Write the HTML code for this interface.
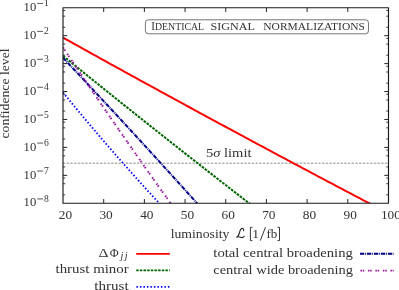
<!DOCTYPE html><html><head><meta charset="utf-8"><style>html,body{margin:0;padding:0;background:#fff}svg{display:block}text{font-family:"Liberation Serif",serif;fill:#333}</style></head><body>
<svg width="399" height="290" viewBox="0 0 399 290">
<rect width="399" height="290" fill="#fff"/>
<defs><filter id="gs" x="0" y="0" width="399" height="290" filterUnits="userSpaceOnUse" color-interpolation-filters="sRGB"><feColorMatrix type="saturate" values="0"/></filter><clipPath id="c"><rect x="63.00" y="7.75" width="325.50" height="195.50"/></clipPath></defs>
<g clip-path="url(#c)" fill="none">
<line x1="63.00" y1="163.20" x2="388.50" y2="163.20" stroke="#808080" stroke-width="0.9" stroke-dasharray="2.4 1.3"/>
<polyline points="63.00,37.64 66.00,39.32 69.00,40.98 72.00,42.65 75.00,44.32 78.00,45.99 81.00,47.65 84.00,49.32 87.00,50.98 90.00,52.65 93.00,54.31 96.00,55.97 99.00,57.63 102.00,59.29 105.00,60.95 108.00,62.61 111.00,64.26 114.00,65.92 117.00,67.57 120.00,69.23 123.00,70.88 126.00,72.53 129.00,74.18 132.00,75.83 135.00,77.48 138.00,79.13 141.00,80.77 144.00,82.42 147.00,84.07 150.00,85.71 153.00,87.35 156.00,88.99 159.00,90.64 162.00,92.28 165.00,93.92 168.00,95.55 171.00,97.19 174.00,98.83 177.00,100.46 180.00,102.10 183.00,103.73 186.00,105.36 189.00,107.00 192.00,108.63 195.00,110.26 198.00,111.89 201.00,113.51 204.00,115.14 207.00,116.77 210.00,118.39 213.00,120.02 216.00,121.64 219.00,123.26 222.00,124.88 225.00,126.50 228.00,128.12 231.00,129.74 234.00,131.36 237.00,132.98 240.00,134.59 243.00,136.21 246.00,137.82 249.00,139.43 252.00,141.04 255.00,142.65 258.00,144.26 261.00,145.87 264.00,147.48 267.00,149.09 270.00,150.69 273.00,152.30 276.00,153.90 279.00,155.51 282.00,157.11 285.00,158.71 288.00,160.31 291.00,161.91 294.00,163.51 297.00,165.11 300.00,166.70 303.00,168.30 306.00,169.89 309.00,171.49 312.00,173.08 315.00,174.67 318.00,176.26 321.00,177.85 324.00,179.44 327.00,181.03 330.00,182.62 333.00,184.20 336.00,185.79 339.00,187.37 342.00,188.96 345.00,190.54 348.00,192.12 351.00,193.70 354.00,195.28 357.00,196.86 360.00,198.43 363.00,200.01 366.00,201.59 369.00,203.16 372.00,204.74" stroke="#ff0000" stroke-width="2.0"/>
<polyline points="63.00,55.85 66.00,58.29 69.00,60.72 72.00,63.15 75.00,65.58 78.00,68.01 81.00,70.43 84.00,72.86 87.00,75.28 90.00,77.70 93.00,80.12 96.00,82.53 99.00,84.95 102.00,87.36 105.00,89.77 108.00,92.18 111.00,94.58 114.00,96.99 117.00,99.39 120.00,101.79 123.00,104.19 126.00,106.58 129.00,108.98 132.00,111.37 135.00,113.76 138.00,116.15 141.00,118.53 144.00,120.92 147.00,123.30 150.00,125.68 153.00,128.06 156.00,130.44 159.00,132.81 162.00,135.18 165.00,137.55 168.00,139.92 171.00,142.29 174.00,144.65 177.00,147.02 180.00,149.38 183.00,151.74 186.00,154.09 189.00,156.45 192.00,158.80 195.00,161.15 198.00,163.50 201.00,165.85 204.00,168.19 207.00,170.54 210.00,172.88 213.00,175.22 216.00,177.55 219.00,179.89 222.00,182.22 225.00,184.55 228.00,186.88 231.00,189.21 234.00,191.54 237.00,193.86 240.00,196.18 243.00,198.50 246.00,200.82 249.00,203.13 252.00,205.45" stroke="#006400" stroke-width="2.0" stroke-dasharray="2.6 1.1"/>
<polyline points="63.00,57.77 66.00,60.95 69.00,64.13 72.00,67.31 75.00,70.49 78.00,73.68 81.00,76.87 84.00,80.07 87.00,83.27 90.00,86.48 93.00,89.68 96.00,92.90 99.00,96.11 102.00,99.33 105.00,102.55 108.00,105.78 111.00,109.01 114.00,112.24 117.00,115.48 120.00,118.72 123.00,121.97 126.00,125.22 129.00,128.47 132.00,131.73 135.00,134.99 138.00,138.25 141.00,141.52 144.00,144.79 147.00,148.07 150.00,151.34 153.00,154.63 156.00,157.91 159.00,161.20 162.00,164.50 165.00,167.80 168.00,171.10 171.00,174.40 174.00,177.71 177.00,181.02 180.00,184.34 183.00,187.66 186.00,190.98 189.00,194.31 192.00,197.64 195.00,200.98 198.00,204.32 201.00,207.66" stroke="#00008b" stroke-width="2.0" stroke-dasharray="4.3 0.9 0.9 0.9"/>
<polyline points="63.00,47.54 66.00,52.03 69.00,56.51 72.00,60.98 75.00,65.45 78.00,69.90 81.00,74.35 84.00,78.79 87.00,83.22 90.00,87.64 93.00,92.05 96.00,96.46 99.00,100.85 102.00,105.24 105.00,109.62 108.00,113.99 111.00,118.35 114.00,122.71 117.00,127.05 120.00,131.39 123.00,135.71 126.00,140.03 129.00,144.34 132.00,148.65 135.00,152.94 138.00,157.22 141.00,161.50 144.00,165.77 147.00,170.03 150.00,174.28 153.00,178.52 156.00,182.75 159.00,186.98 162.00,191.19 165.00,195.40 168.00,199.60 171.00,203.79 174.00,207.97" stroke="#96109a" stroke-width="2.0" stroke-dasharray="1.5 0.8 1.5 3.7"/>
<polyline points="63.00,92.48 66.00,96.14 69.00,99.79 72.00,103.43 75.00,107.05 78.00,110.66 81.00,114.25 84.00,117.84 87.00,121.41 90.00,124.96 93.00,128.50 96.00,132.03 99.00,135.55 102.00,139.05 105.00,142.54 108.00,146.01 111.00,149.47 114.00,152.92 117.00,156.35 120.00,159.77 123.00,163.18 126.00,166.57 129.00,169.95 132.00,173.32 135.00,176.67 138.00,180.01 141.00,183.34 144.00,186.65 147.00,189.95 150.00,193.23 153.00,196.50 156.00,199.76 159.00,203.01 162.00,206.24" stroke="#0000ff" stroke-width="1.8" stroke-dasharray="1.5 2"/>
</g>
<rect x="63.00" y="7.75" width="325.50" height="195.50" fill="none" stroke="#1a1a1a" stroke-width="1.15" stroke-linejoin="round"/>
<path d="M103.69 203.25v-4.2M103.69 7.75v4.2M144.38 203.25v-4.2M144.38 7.75v4.2M185.06 203.25v-4.2M185.06 7.75v4.2M225.75 203.25v-4.2M225.75 7.75v4.2M266.44 203.25v-4.2M266.44 7.75v4.2M307.12 203.25v-4.2M307.12 7.75v4.2M347.81 203.25v-4.2M347.81 7.75v4.2M63.00 175.32h4.2M388.50 175.32h-4.2M63.00 147.39h4.2M388.50 147.39h-4.2M63.00 119.46h4.2M388.50 119.46h-4.2M63.00 91.54h4.2M388.50 91.54h-4.2M63.00 63.61h4.2M388.50 63.61h-4.2M63.00 35.68h4.2M388.50 35.68h-4.2" stroke="#222" stroke-width="1" fill="none"/>
<path d="M63.00 194.84h2.2M388.50 194.84h-2.2M63.00 183.73h2.2M388.50 183.73h-2.2M63.00 178.03h2.2M388.50 178.03h-2.2M63.00 166.91h2.2M388.50 166.91h-2.2M63.00 155.80h2.2M388.50 155.80h-2.2M63.00 150.10h2.2M388.50 150.10h-2.2M63.00 138.99h2.2M388.50 138.99h-2.2M63.00 127.87h2.2M388.50 127.87h-2.2M63.00 122.17h2.2M388.50 122.17h-2.2M63.00 111.06h2.2M388.50 111.06h-2.2M63.00 99.94h2.2M388.50 99.94h-2.2M63.00 94.24h2.2M388.50 94.24h-2.2M63.00 83.13h2.2M388.50 83.13h-2.2M63.00 72.01h2.2M388.50 72.01h-2.2M63.00 66.31h2.2M388.50 66.31h-2.2M63.00 55.20h2.2M388.50 55.20h-2.2M63.00 44.09h2.2M388.50 44.09h-2.2M63.00 38.39h2.2M388.50 38.39h-2.2M63.00 27.27h2.2M388.50 27.27h-2.2M63.00 16.16h2.2M388.50 16.16h-2.2M63.00 10.46h2.2M388.50 10.46h-2.2" stroke="#222" stroke-width="0.9" fill="none"/>
<g id="tx" filter="url(#gs)">
<text x="65.40" y="219.3" font-size="13.3" text-anchor="middle">20</text>
<text x="106.09" y="219.3" font-size="13.3" text-anchor="middle">30</text>
<text x="146.78" y="219.3" font-size="13.3" text-anchor="middle">40</text>
<text x="187.46" y="219.3" font-size="13.3" text-anchor="middle">50</text>
<text x="228.15" y="219.3" font-size="13.3" text-anchor="middle">60</text>
<text x="268.84" y="219.3" font-size="13.3" text-anchor="middle">70</text>
<text x="309.52" y="219.3" font-size="13.3" text-anchor="middle">80</text>
<text x="350.21" y="219.3" font-size="13.3" text-anchor="middle">90</text>
<text x="390.90" y="219.3" font-size="13.3" text-anchor="middle">100</text>
<text x="23.6" y="206.45" font-size="13.3" textLength="12.6" lengthAdjust="spacingAndGlyphs">10</text>
<path d="M37.2 198.95h5.9" stroke="#222" stroke-width="0.75"/>
<text x="43.9" y="201.75" font-size="9.6">8</text>
<text x="23.6" y="178.52" font-size="13.3" textLength="12.6" lengthAdjust="spacingAndGlyphs">10</text>
<path d="M37.2 171.02h5.9" stroke="#222" stroke-width="0.75"/>
<text x="43.9" y="173.82" font-size="9.6">7</text>
<text x="23.6" y="150.59" font-size="13.3" textLength="12.6" lengthAdjust="spacingAndGlyphs">10</text>
<path d="M37.2 143.09h5.9" stroke="#222" stroke-width="0.75"/>
<text x="43.9" y="145.89" font-size="9.6">6</text>
<text x="23.6" y="122.66" font-size="13.3" textLength="12.6" lengthAdjust="spacingAndGlyphs">10</text>
<path d="M37.2 115.16h5.9" stroke="#222" stroke-width="0.75"/>
<text x="43.9" y="117.96" font-size="9.6">5</text>
<text x="23.6" y="94.74" font-size="13.3" textLength="12.6" lengthAdjust="spacingAndGlyphs">10</text>
<path d="M37.2 87.24h5.9" stroke="#222" stroke-width="0.75"/>
<text x="43.9" y="90.04" font-size="9.6">4</text>
<text x="23.6" y="66.81" font-size="13.3" textLength="12.6" lengthAdjust="spacingAndGlyphs">10</text>
<path d="M37.2 59.31h5.9" stroke="#222" stroke-width="0.75"/>
<text x="43.9" y="62.11" font-size="9.6">3</text>
<text x="23.6" y="38.88" font-size="13.3" textLength="12.6" lengthAdjust="spacingAndGlyphs">10</text>
<path d="M37.2 31.38h5.9" stroke="#222" stroke-width="0.75"/>
<text x="43.9" y="34.18" font-size="9.6">2</text>
<text x="23.6" y="10.95" font-size="13.3" textLength="12.6" lengthAdjust="spacingAndGlyphs">10</text>
<path d="M37.2 3.45h5.9" stroke="#222" stroke-width="0.75"/>
<text x="43.9" y="6.25" font-size="9.6">1</text>
<text transform="translate(9.2 93.5) rotate(-90)" font-size="13.5" text-anchor="middle" textLength="90" lengthAdjust="spacingAndGlyphs">confidence level</text>
<text x="170.7" y="237.8" font-size="13.5" textLength="58.7" lengthAdjust="spacingAndGlyphs">luminosity</text>
<path d="M243.7 230.7C243.9 229.2 243.2 228.4 242.2 228.4C240.6 228.4 240 230.5 239.5 232.5C239 234.6 238.3 236.6 236.4 237.4C237.8 236.3 239.2 236.8 240.4 237.3C241.8 237.9 243.3 237.7 244.2 236.3" fill="none" stroke="#2a2a2a" stroke-width="1.1" stroke-linecap="round"/>
<path d="M252.4 227.3H250.4V240.6H252.4M277.5 227.3H279.5V240.6H277.5M260.3 240.6L265.5 227.1" fill="none" stroke="#222" stroke-width="0.9"/>
<text x="255.7" y="237.8" font-size="13.5" text-anchor="middle">1</text>
<text x="266.4" y="237.8" font-size="13.5" textLength="10.9" lengthAdjust="spacingAndGlyphs">fb</text>
<text x="206" y="156.6" font-size="13.5" textLength="45.5" lengthAdjust="spacingAndGlyphs">5<tspan font-style="italic">σ</tspan> limit</text>
<rect x="145.4" y="19.8" width="223.1" height="14" rx="3" ry="3" fill="#fff" stroke="#3a3a3a" stroke-width="0.7"/>
<text x="151.3" y="30.2" font-size="10.4" textLength="52.8" lengthAdjust="spacingAndGlyphs"><tspan font-size="11.6">I</tspan>DENTICAL</text>
<text x="210.6" y="30.2" font-size="10.4" textLength="44.3" lengthAdjust="spacingAndGlyphs">SIGNAL</text>
<text x="263.3" y="30.2" font-size="10.4" textLength="101.6" lengthAdjust="spacingAndGlyphs">NORMALIZATIONS</text>
<text x="98.4" y="256.8" font-size="12.8" textLength="10" lengthAdjust="spacingAndGlyphs">Δ</text>
<text x="109.8" y="256.8" font-size="12.8" textLength="8.9" lengthAdjust="spacingAndGlyphs">Φ</text>
<text x="120.6" y="259.1" font-size="10.4" font-style="italic">j</text>
<text x="124.7" y="259.1" font-size="10.4" font-style="italic">j</text>
<text x="128.7" y="273.3" font-size="13.5" text-anchor="end" textLength="73.2" lengthAdjust="spacingAndGlyphs">thrust minor</text>
<text x="128.7" y="289.5" font-size="13.5" text-anchor="end" textLength="34.4" lengthAdjust="spacingAndGlyphs">thrust</text>
<text x="213.3" y="257.2" font-size="13.5" textLength="139.6" lengthAdjust="spacingAndGlyphs">total central broadening</text>
<text x="213.3" y="273.7" font-size="13.5" textLength="139.6" lengthAdjust="spacingAndGlyphs">central wide broadening</text>
</g>
<line x1="136.20" y1="253.80" x2="169.80" y2="253.80" stroke="#ff0000" stroke-width="1.7"/>
<line x1="136.20" y1="270.30" x2="169.80" y2="270.30" stroke="#006400" stroke-width="1.8" stroke-dasharray="2.5 1.15"/>
<line x1="136.40" y1="286.90" x2="169.80" y2="286.90" stroke="#0000ff" stroke-width="1.7" stroke-dasharray="1.5 2"/>
<line x1="360.00" y1="253.80" x2="393.70" y2="253.80" stroke="#00008b" stroke-width="1.9" stroke-dasharray="4.3 0.9 0.9 0.9"/>
<line x1="360.40" y1="270.60" x2="393.70" y2="270.60" stroke="#96109a" stroke-width="1.8" stroke-dasharray="1.5 0.8 1.5 3.7"/>
</svg></body></html>
